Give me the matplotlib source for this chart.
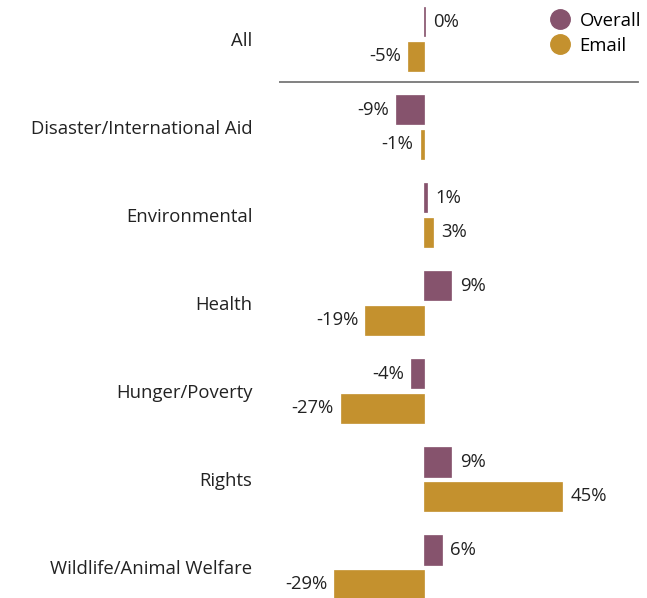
import matplotlib
matplotlib.use("Agg")
import matplotlib.pyplot as plt
from matplotlib.lines import Line2D

categories = ["All", "Disaster/International Aid", "Environmental", "Health",
              "Hunger/Poverty", "Rights", "Wildlife/Animal Welfare"]
overall = [0.49, -9, 1, 9, -4, 9, 6]
email = [-5, -1, 3, -19, -27, 45, -29]
series_names = ["Overall", "Email"]

c_overall = "#86536D"
c_email = "#C4912E"

plt.rcParams['font.family'] = ['Open Sans', 'DejaVu Sans']
fs = 13.3

fig = plt.figure(figsize=(6.47, 5.98), dpi=100)
ax = fig.add_axes([279/647, 0, 360/647, 1])

h = 0.33
off = 0.195
for i, (o, e) in enumerate(zip(overall, email)):
    ax.barh(i - off, o, height=h, color=c_overall, edgecolor=c_overall, lw=0.5)
    ax.barh(i + off, e, height=h, color=c_email, edgecolor=c_email, lw=0.5)
    for y, v in ((i - off, o), (i + off, e)):
        ax.annotate(f"{v:.0f}%", xy=(v, y), xytext=(6 if v >= 0 else -5, 0),
                    textcoords="offset points", va="center",
                    ha="left" if v >= 0 else "right", fontsize=fs, color="#222222")

ax.set_xlim(-47, 70)
ax.set_ylim(6.35, -0.443)
ax.set_yticks(range(len(categories)))
ax.set_yticklabels(categories, fontsize=fs, color="#222222")
ax.tick_params(axis='y', length=0, pad=19)
ax.set_xticks([])
for s in ax.spines.values():
    s.set_visible(False)

ax.axhline(0.49, color="#777777", lw=1.3, xmin=0, xmax=359/360)

handles = [Line2D([], [], marker='o', ls='', markersize=14, color=c_overall),
           Line2D([], [], marker='o', ls='', markersize=14, color=c_email)]
leg = ax.legend(handles, series_names, loc="upper right", bbox_to_anchor=(1.026, 0.993),
                frameon=False, fontsize=fs, handletextpad=0.45, labelspacing=0.4,
                borderaxespad=0.0, handlelength=1.2)

fig.savefig("out.png", dpi=100)
